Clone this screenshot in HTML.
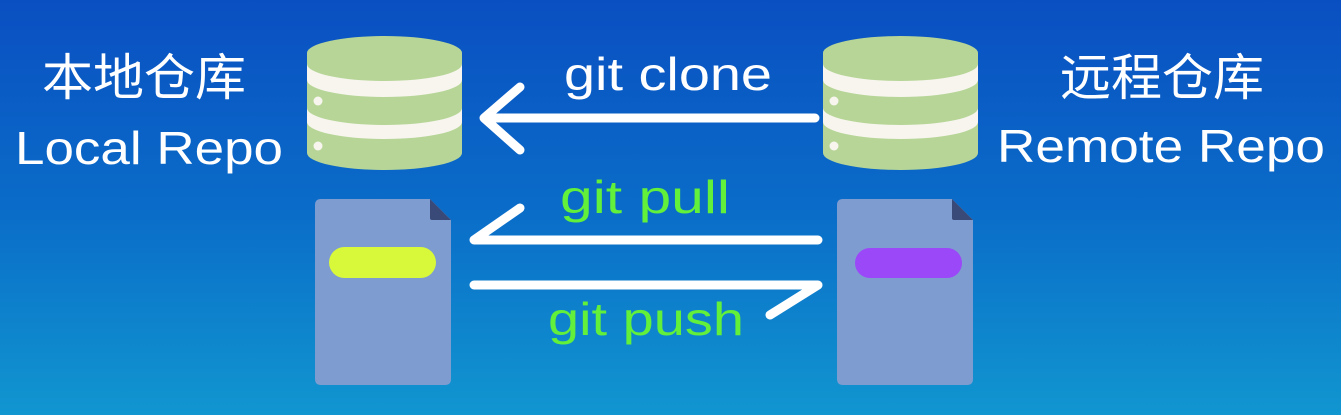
<!DOCTYPE html>
<html><head><meta charset="utf-8"><style>
html,body{margin:0;padding:0;width:1341px;height:415px;overflow:hidden}
body{background:linear-gradient(180deg,#0a4fc2 0%,#0a6cc8 50%,#1196d0 100%)}
svg{display:block}
text{font-family:"Liberation Sans","Noto Sans CJK SC",sans-serif}
</style></head><body>
<svg width="1341" height="415" viewBox="0 0 1341 415" xmlns="http://www.w3.org/2000/svg">
<defs>
<g id="cyl">
  <path d="M0,17 A77.5,17 0 0 1 155,17 L155,117 A77.5,17 0 0 1 0,117 Z" fill="#b6d597"/>
  <path d="M0,28 A77.5,17 0 0 0 155,28 L155,44 A77.5,17 0 0 1 0,44 Z" fill="#f7f5ee"/>
  <path d="M0,72 A77.5,17 0 0 0 155,72 L155,86 A77.5,17 0 0 1 0,86 Z" fill="#f7f5ee"/>
  <circle cx="11" cy="65" r="4.5" fill="#f7f5ee"/>
  <circle cx="11" cy="110" r="4.5" fill="#f7f5ee"/>
</g>
<g id="doc">
  <path d="M6,0 L115,0 L136,21 L136,180 Q136,186 130,186 L6,186 Q0,186 0,180 L0,6 Q0,0 6,0 Z" fill="#7f9cd0"/>
  <path d="M115,0 L136,21 L117,21 Q115,21 115,19 Z" fill="#3a4a78"/>
</g>
</defs>

<use href="#cyl" x="307" y="36"/>
<use href="#cyl" x="823" y="36"/>
<use href="#doc" x="315" y="199"/>
<use href="#doc" x="837" y="199"/>
<rect x="329" y="247" width="107" height="31" rx="15.5" fill="#d8f83a"/>
<rect x="855" y="248" width="107" height="30" rx="15" fill="#9a48f8"/>

<g stroke="#ffffff" stroke-width="9" stroke-linecap="round" stroke-linejoin="round" fill="none">
  <path d="M815,118 L484,118 M520,87 L484,118 L520,150"/>
  <path d="M818,240 L474,240 L520,208"/>
  <path d="M474,285 L818,285 L770,315"/>
</g>

<g fill="#ffffff" font-size="46">
  <text x="668" y="90" text-anchor="middle" textLength="208" lengthAdjust="spacingAndGlyphs">git clone</text>
  <text x="144" y="95" text-anchor="middle" font-size="50" textLength="204" lengthAdjust="spacingAndGlyphs">本地仓库</text>
  <text x="149" y="164" text-anchor="middle" textLength="268" lengthAdjust="spacingAndGlyphs">Local Repo</text>
  <text x="1162" y="95" text-anchor="middle" font-size="50" textLength="204" lengthAdjust="spacingAndGlyphs">远程仓库</text>
  <text x="1161" y="162" text-anchor="middle" textLength="328" lengthAdjust="spacingAndGlyphs">Remote Repo</text>
</g>
<g fill="#62f03a" font-size="46">
  <text x="645" y="213" text-anchor="middle" textLength="170" lengthAdjust="spacingAndGlyphs">git pull</text>
  <text x="646" y="335" text-anchor="middle" textLength="196" lengthAdjust="spacingAndGlyphs">git push</text>
</g>
</svg>
</body></html>
